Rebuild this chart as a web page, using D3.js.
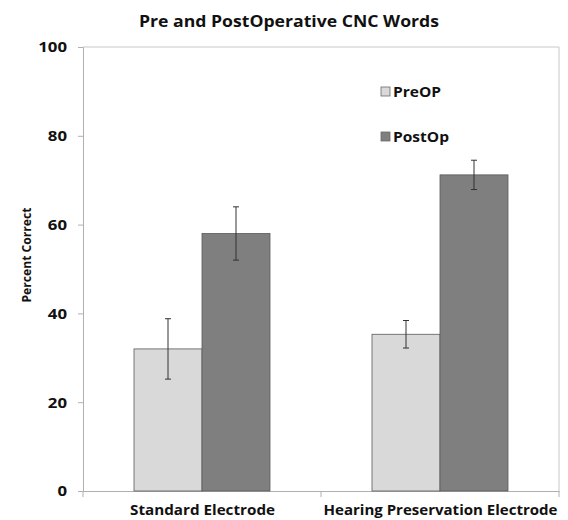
<!DOCTYPE html>
<html>
<head>
<meta charset="utf-8">
<script src="https://cdn.jsdelivr.net/npm/d3@7"></script>
<style>
  body { margin: 0; background: #fff; }
  text { font-family: "Open Sans", "DejaVu Sans", sans-serif; font-weight: bold; fill: #111; }
</style>
</head>
<body>
<svg id="chart"></svg>
<script>
// chart data
const categories = ["Standard Electrode", "Hearing Preservation Electrode"];
const series = ["PreOP", "PostOp"];
const preValues = [32.0, 35.3];
const postValues = [58.0, 71.2];
const preErrors = [6.8, 3.1];
const postErrors = [6.0, 3.3];
const yTicks = [0, 20, 40, 60, 80, 100];

const colors = { PreOP: "#d9d9d9", PostOp: "#7f7f7f" };

let svg = d3.select("svg#chart")
  .attr("width", 568)
  .attr("height", 520);

const plotLeft = 83, plotRight = 559, plotTop = 47, plotBottom = 491;

const x = d3.scaleBand().domain(categories).range([plotLeft, plotRight]);
const xInner = d3.scaleBand().domain(series).range([0, 136]);
const y = d3.scaleLinear().domain([0, 100]).range([plotBottom, plotTop]);

const rows = categories.map((c, i) => [
  { cat: c, s: "PreOP", v: preValues[i], e: preErrors[i] },
  { cat: c, s: "PostOp", v: postValues[i], e: postErrors[i] }
]).flat();

// the source image is a little stretched sideways, so text gets a textLength
function stretch(sel, len) {
  sel.attr("textLength", len).attr("lengthAdjust", "spacingAndGlyphs");
}

// plot border (top / right)
svg.append("path")
  .attr("d", `M${plotLeft},${plotTop}H${plotRight}V${plotBottom}`)
  .attr("fill", "none").attr("stroke", "#c8c8c8").attr("stroke-width", 1);

// title
svg.append("text").attr("x", 289).attr("y", 27).attr("text-anchor", "middle")
  .style("font-size", "15.5px").text("Pre and PostOperative CNC Words")
  .call(stretch, 300);

// y axis
let yAxis = svg.append("g").attr("transform", `translate(${plotLeft},0)`)
  .call(d3.axisLeft(y).tickValues(yTicks).tickSize(5).tickPadding(11));
yAxis.select(".domain").attr("stroke", "#b0b0b0");
yAxis.selectAll("line").attr("stroke", "#b0b0b0");
yAxis.selectAll("text").style("font-size", "14px").style("font-family", "'Open Sans', sans-serif")
  .attr("fill", "#111").attr("dy", "0.35em")
  .each(function(d) { stretch(d3.select(this), String(d).length * 9.6); });

svg.append("text").attr("transform", "translate(31,255) rotate(-90)")
  .attr("text-anchor", "middle").style("font-size", "13px").text("Percent Correct")
  .call(stretch, 95);

// x axis
let xAxis = svg.append("g").attr("transform", `translate(0,${plotBottom})`)
  .call(d3.axisBottom(x).tickSize(0).tickFormat(""));
xAxis.select(".domain").attr("stroke", "#b0b0b0");
[plotLeft, x(categories[1]), plotRight].forEach(px => {
  svg.append("line").attr("x1", px).attr("x2", px).attr("y1", plotBottom).attr("y2", plotBottom + 6)
    .attr("stroke", "#b0b0b0");
});
const catWidths = [145, 234];
categories.forEach((c, i) => {
  svg.append("text").attr("x", x(c) + x.bandwidth() / 2 + 0.5).attr("y", 515)
    .attr("text-anchor", "middle").style("font-size", "14px").text(c)
    .call(stretch, catWidths[i]);
});

// bars
const off = (x.bandwidth() - 136) / 2;
svg.selectAll(".bar").data(rows).join("rect").attr("class", "bar")
  .attr("x", d => x(d.cat) + off + xInner(d.s))
  .attr("y", d => y(d.v))
  .attr("width", xInner.bandwidth())
  .attr("height", d => y(0) - y(d.v))
  .attr("fill", d => colors[d.s])
  .attr("stroke", "#5a5a5a").attr("stroke-width", 0.8);

// error bars
const eb = svg.selectAll(".err").data(rows).join("g").attr("class", "err")
  .attr("transform", d => `translate(${x(d.cat) + off + xInner(d.s) + xInner.bandwidth() / 2},0)`);
eb.append("line").attr("y1", d => y(d.v + d.e)).attr("y2", d => y(d.v - d.e))
  .attr("stroke", "#333").attr("stroke-width", 1);
eb.append("line").attr("x1", -3).attr("x2", 3).attr("y1", d => y(d.v + d.e)).attr("y2", d => y(d.v + d.e))
  .attr("stroke", "#333").attr("stroke-width", 1);
eb.append("line").attr("x1", -3).attr("x2", 3).attr("y1", d => y(d.v - d.e)).attr("y2", d => y(d.v - d.e))
  .attr("stroke", "#333").attr("stroke-width", 1);

// legend
const legendWidths = [48, 56];
series.forEach((s, i) => {
  const ly = 87 + i * 45;
  svg.append("rect").attr("x", 381).attr("y", ly).attr("width", 9).attr("height", 9)
    .attr("fill", colors[s]).attr("stroke", "#6a6a6a").attr("stroke-width", 0.8);
  svg.append("text").attr("x", 393).attr("y", ly + 9.5).style("font-size", "13.5px").text(s)
    .call(stretch, legendWidths[i]);
});
</script>
</body>
</html>
